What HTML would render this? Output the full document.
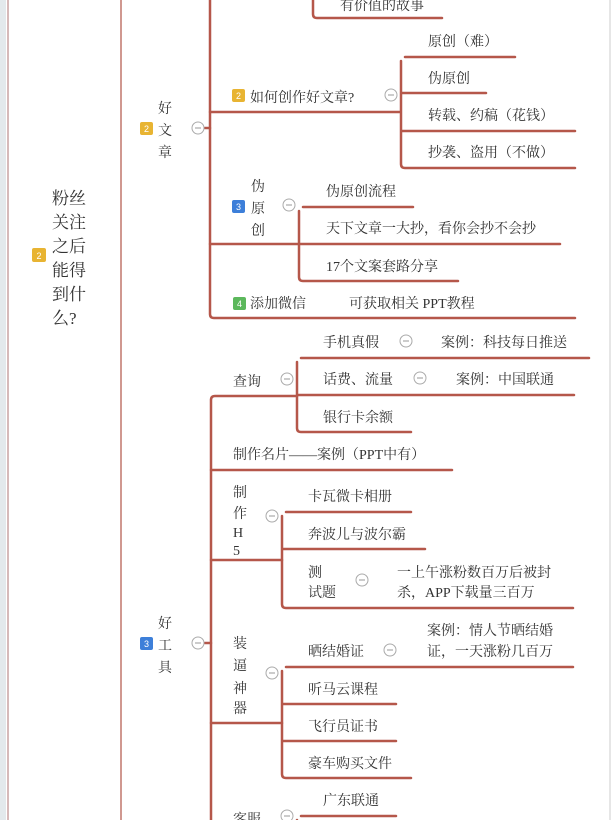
<!DOCTYPE html>
<html><head><meta charset="utf-8"><style>
html,body{margin:0;padding:0;background:#fff;}
svg{display:block;}
text{font-family:"Liberation Serif","Noto Serif CJK SC",serif;font-size:14px;fill:#333;}
.b{font-family:"Liberation Sans",sans-serif;font-size:9px;fill:#fff;text-anchor:middle;}
</style></head><body>
<svg width="612" height="820" viewBox="0 0 612 820" xmlns="http://www.w3.org/2000/svg">
<rect x="0" y="0" width="6" height="820" fill="#e3e9ec"/>
<line x1="8" y1="0" x2="8" y2="820" stroke="#c9a3a3" stroke-width="1.5"/>
<line x1="121" y1="0" x2="121" y2="820" stroke="#c0776c" stroke-width="1.5"/>
<line x1="610" y1="0" x2="610" y2="820" stroke="#ccc" stroke-width="1"/>
<g fill="none" stroke="#b5574a" stroke-width="2.5" stroke-linecap="round">
<!-- top -->
<path d="M313 0 V14 Q313 18 317 18 H442"/>
<path d="M210 0 V314 Q210 318 214 318 H575"/>
<path d="M210 112 H400"/>
<path d="M405 57 H515 M401 61 V164 Q401 168 405 168 H575 M401 93 H486 M401 131 H575"/>
<path d="M210 244 H299"/>
<path d="M303 207 H413 M299 211 V277 Q299 281 303 281 H458 M299 244 H560"/>
<!-- bottom -->
<path d="M211 820 V400 Q211 396 215 396 H297"/>
<path d="M301 358 H589 M297 362 V428 Q297 432 301 432 H411 M297 395 H574"/>
<path d="M211 470 H452"/>
<path d="M211 560 H282"/>
<path d="M286 512 H411 M282 516 V604 Q282 608 286 608 H573 M282 549 H425"/>
<path d="M211 723 H282"/>
<path d="M286 667 H573 M282 671 V774 Q282 778 286 778 H411 M282 704 H396 M282 741 H396"/>
<path d="M297 820 V820 M301 816 H396 M297 820 V820"/>
<path d="M205 128 H210 M205 643 H211"/>
</g>
<!-- collapse circles -->
<g fill="#fff" stroke="#aaa" stroke-width="1">
<circle cx="198" cy="128" r="6"/><circle cx="391" cy="95" r="6"/><circle cx="289" cy="205" r="6"/>
<circle cx="198" cy="643" r="6"/><circle cx="287" cy="379" r="6"/><circle cx="406" cy="341" r="6"/>
<circle cx="420" cy="378" r="6"/><circle cx="272" cy="516" r="6"/><circle cx="362" cy="580" r="6"/>
<circle cx="272" cy="673" r="6"/><circle cx="390" cy="650" r="6"/><circle cx="287" cy="816" r="6"/>
</g>
<g stroke="#999" stroke-width="1">
<path d="M195 128h6M388 95h6M286 205h6M195 643h6M284 379h6M403 341h6M417 378h6M269 516h6M359 580h6M269 673h6M387 650h6M284 816h6"/>
</g>
<!-- badges -->
<rect x="32" y="248" width="14" height="14" rx="2" fill="#e8b432"/><text class="b" x="39" y="259">2</text>
<rect x="140" y="122" width="13" height="13" rx="2" fill="#e8b432"/><text class="b" x="146.5" y="132">2</text>
<rect x="232" y="89" width="13" height="13" rx="2" fill="#e8b432"/><text class="b" x="238.5" y="99">2</text>
<rect x="232" y="200" width="13" height="13" rx="2" fill="#3d7fd9"/><text class="b" x="238.5" y="210">3</text>
<rect x="233" y="297" width="13" height="13" rx="2" fill="#5cb85c"/><text class="b" x="239.5" y="307">4</text>
<rect x="140" y="637" width="13" height="13" rx="2" fill="#3d7fd9"/><text class="b" x="146.5" y="647">3</text>
<!-- texts -->
<text x="52" y="204" style="font-size:17px">粉丝</text>
<text x="52" y="228" style="font-size:17px">关注</text>
<text x="52" y="252" style="font-size:17px">之后</text>
<text x="52" y="276" style="font-size:17px">能得</text>
<text x="52" y="300" style="font-size:17px">到什</text>
<text x="52" y="324" style="font-size:17px">么?</text>
<text x="158" y="113">好</text><text x="158" y="135">文</text><text x="158" y="157">章</text>
<text x="340" y="10">有价值的故事</text>
<text x="250" y="102">如何创作好文章?</text>
<text x="428" y="46">原创（难）</text>
<text x="428" y="83">伪原创</text>
<text x="428" y="120">转载、约稿（花钱）</text>
<text x="428" y="157">抄袭、盗用（不做）</text>
<text x="251" y="191">伪</text><text x="251" y="213">原</text><text x="251" y="235">创</text>
<text x="326" y="196">伪原创流程</text>
<text x="326" y="233">天下文章一大抄，看你会抄不会抄</text>
<text x="326" y="271">17个文案套路分享</text>
<text x="250" y="308">添加微信</text>
<text x="349" y="308">可获取相关 PPT教程</text>
<text x="158" y="628">好</text><text x="158" y="650">工</text><text x="158" y="672">具</text>
<text x="233" y="386">查询</text>
<text x="323" y="347">手机真假</text>
<text x="441" y="347">案例：科技每日推送</text>
<text x="323" y="384">话费、流量</text>
<text x="456" y="384">案例：中国联通</text>
<text x="323" y="422">银行卡余额</text>
<text x="233" y="459">制作名片——案例（PPT中有）</text>
<text x="233" y="497">制</text><text x="233" y="518">作</text><text x="233" y="537">H</text><text x="233" y="555">5</text>
<text x="308" y="501">卡瓦微卡相册</text>
<text x="308" y="539">奔波儿与波尔霸</text>
<text x="308" y="577">测</text><text x="308" y="597">试题</text>
<text x="397" y="577">一上午涨粉数百万后被封</text>
<text x="397" y="597">杀，APP下载量三百万</text>
<text x="233" y="648">装</text><text x="233" y="670">逼</text><text x="233" y="693">神</text><text x="233" y="713">器</text>
<text x="308" y="656">晒结婚证</text>
<text x="427" y="635">案例：情人节晒结婚</text>
<text x="427" y="656">证，一天涨粉几百万</text>
<text x="308" y="694">听马云课程</text>
<text x="308" y="731">飞行员证书</text>
<text x="308" y="768">豪车购买文件</text>
<text x="323" y="805">广东联通</text>
<text x="233" y="824">客服</text>
</svg>
</body></html>
